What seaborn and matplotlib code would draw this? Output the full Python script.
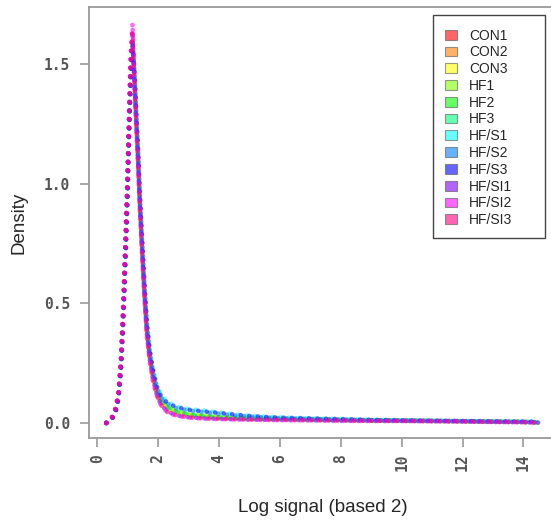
import pandas as pd
import matplotlib.pyplot as plt
import seaborn as sns
from matplotlib.patches import Patch, Rectangle

# Density curves of log2 signal
log_signal = [0.3, 0.45, 0.6, 0.7, 0.78, 0.85, 0.92, 0.98, 1.04, 1.1,
              1.16, 1.22, 1.28, 1.34, 1.4, 1.47, 1.55, 1.63, 1.72, 1.82,
              1.95, 2.1, 2.3, 2.6, 3.0, 3.5, 4.0, 4.5, 5.0, 5.5,
              6.0, 7.0, 8.0, 9.0, 10.0, 11.0, 12.0, 13.0, 14.0, 14.5]

con1 = [0.0, 0.012, 0.05, 0.11, 0.24, 0.44, 0.69, 0.92, 1.21, 1.47,
        1.60, 1.44, 1.27, 1.11, 0.92, 0.74, 0.55, 0.39, 0.29, 0.21,
        0.13, 0.088, 0.062, 0.045, 0.033, 0.027, 0.022, 0.020, 0.018, 0.017,
        0.016, 0.014, 0.012, 0.010, 0.009, 0.008, 0.007, 0.005, 0.004, 0.002]
con2 = [0.0, 0.010, 0.05, 0.12, 0.25, 0.45, 0.70, 0.93, 1.22, 1.49,
        1.62, 1.45, 1.28, 1.12, 0.93, 0.75, 0.56, 0.40, 0.29, 0.21,
        0.135, 0.09, 0.064, 0.046, 0.034, 0.028, 0.023, 0.021, 0.019, 0.018,
        0.017, 0.015, 0.013, 0.011, 0.010, 0.009, 0.007, 0.006, 0.004, 0.002]
con3 = [0.0, 0.011, 0.06, 0.12, 0.26, 0.46, 0.72, 0.95, 1.24, 1.50,
        1.61, 1.43, 1.26, 1.10, 0.91, 0.73, 0.54, 0.38, 0.28, 0.20,
        0.13, 0.086, 0.060, 0.044, 0.032, 0.026, 0.022, 0.020, 0.018, 0.017,
        0.016, 0.014, 0.012, 0.011, 0.010, 0.008, 0.007, 0.005, 0.004, 0.002]
hf1 = [0.0, 0.010, 0.05, 0.11, 0.24, 0.43, 0.68, 0.91, 1.20, 1.46,
       1.59, 1.46, 1.29, 1.13, 0.93, 0.75, 0.56, 0.39, 0.29, 0.21,
       0.135, 0.092, 0.066, 0.048, 0.036, 0.029, 0.024, 0.021, 0.019, 0.018,
       0.017, 0.015, 0.013, 0.011, 0.010, 0.008, 0.007, 0.006, 0.004, 0.002]
hf2 = [0.0, 0.011, 0.05, 0.11, 0.23, 0.42, 0.67, 0.90, 1.19, 1.45,
       1.58, 1.45, 1.28, 1.12, 0.94, 0.76, 0.57, 0.40, 0.30, 0.22,
       0.14, 0.095, 0.067, 0.049, 0.037, 0.030, 0.025, 0.022, 0.020, 0.018,
       0.017, 0.015, 0.013, 0.011, 0.010, 0.009, 0.007, 0.006, 0.005, 0.002]
hf3 = [0.0, 0.012, 0.06, 0.12, 0.25, 0.45, 0.71, 0.94, 1.23, 1.48,
       1.60, 1.44, 1.27, 1.11, 0.92, 0.74, 0.55, 0.39, 0.29, 0.21,
       0.135, 0.09, 0.065, 0.047, 0.035, 0.028, 0.023, 0.021, 0.019, 0.017,
       0.016, 0.014, 0.012, 0.011, 0.010, 0.008, 0.007, 0.005, 0.004, 0.002]
hfs1 = [0.0, 0.010, 0.05, 0.11, 0.23, 0.42, 0.66, 0.89, 1.18, 1.45,
        1.57, 1.47, 1.30, 1.14, 0.95, 0.77, 0.58, 0.42, 0.31, 0.23,
        0.16, 0.115, 0.088, 0.068, 0.058, 0.052, 0.044, 0.036, 0.030, 0.026,
        0.023, 0.019, 0.016, 0.013, 0.011, 0.009, 0.008, 0.006, 0.005, 0.003]
hfs2 = [0.0, 0.010, 0.05, 0.11, 0.24, 0.43, 0.68, 0.91, 1.20, 1.46,
        1.59, 1.46, 1.29, 1.13, 0.94, 0.76, 0.57, 0.41, 0.30, 0.22,
        0.15, 0.105, 0.08, 0.062, 0.052, 0.045, 0.038, 0.031, 0.027, 0.023,
        0.020, 0.017, 0.014, 0.012, 0.011, 0.009, 0.008, 0.006, 0.005, 0.003]
hfs3 = [0.0, 0.009, 0.04, 0.10, 0.22, 0.41, 0.65, 0.88, 1.17, 1.44,
        1.58, 1.48, 1.31, 1.15, 0.96, 0.78, 0.59, 0.42, 0.31, 0.23,
        0.155, 0.11, 0.084, 0.066, 0.055, 0.048, 0.042, 0.035, 0.029, 0.025,
        0.022, 0.019, 0.016, 0.013, 0.011, 0.010, 0.008, 0.007, 0.006, 0.005]
hfsi1 = [0.0, 0.012, 0.06, 0.12, 0.26, 0.47, 0.73, 0.96, 1.25, 1.52,
         1.64, 1.43, 1.25, 1.09, 0.90, 0.72, 0.53, 0.37, 0.27, 0.19,
         0.12, 0.075, 0.048, 0.032, 0.024, 0.019, 0.017, 0.015, 0.014, 0.013,
         0.012, 0.011, 0.009, 0.008, 0.008, 0.007, 0.006, 0.004, 0.003, 0.001]
hfsi2 = [0.0, 0.013, 0.06, 0.13, 0.27, 0.48, 0.74, 0.97, 1.26, 1.54,
         1.67, 1.42, 1.24, 1.08, 0.89, 0.71, 0.52, 0.36, 0.26, 0.18,
         0.115, 0.072, 0.045, 0.030, 0.022, 0.018, 0.016, 0.015, 0.014, 0.013,
         0.012, 0.011, 0.009, 0.008, 0.008, 0.007, 0.006, 0.004, 0.003, 0.001]
hfsi3 = [0.0, 0.012, 0.06, 0.12, 0.26, 0.46, 0.72, 0.95, 1.24, 1.51,
         1.63, 1.44, 1.26, 1.10, 0.90, 0.72, 0.53, 0.37, 0.27, 0.19,
         0.12, 0.074, 0.046, 0.031, 0.023, 0.019, 0.017, 0.015, 0.014, 0.013,
         0.012, 0.011, 0.010, 0.009, 0.008, 0.007, 0.006, 0.004, 0.003, 0.001]

samples = ['CON1', 'CON2', 'CON3', 'HF1', 'HF2', 'HF3',
           'HF/S1', 'HF/S2', 'HF/S3', 'HF/SI1', 'HF/SI2', 'HF/SI3']
curves = [con1, con2, con3, hf1, hf2, hf3, hfs1, hfs2, hfs3, hfsi1, hfsi2, hfsi3]
# R rainbow(12)
colores = ['#FF0000', '#FF8000', '#FFFF00', '#80FF00', '#00FF00', '#00FF80',
           '#00FFFF', '#0080FF', '#0000FF', '#8000FF', '#FF00FF', '#FF0080']

# tabla larga para seaborn
df = pd.concat([pd.DataFrame({'x': log_signal, 'density': c, 'sample': s})
                for s, c in zip(samples, curves)], ignore_index=True)

sns.set_style('ticks')
plt.rcParams['font.family'] = ['Liberation Sans', 'DejaVu Sans']

fig = plt.figure(figsize=(5.51, 5.24), dpi=100)
ax = fig.add_axes([89 / 551, 86 / 524, 467 / 551, 431 / 524])

sns.lineplot(data=df, x='x', y='density', hue='sample', palette=colores,
             hue_order=samples, sort=False, errorbar=None, legend=False,
             linewidth=3.4, alpha=0.6, linestyle=(0, (0.01, 1.8)),
             dash_capstyle='round', ax=ax)

ax.set_xlim(-0.27, 15.07)
ax.set_ylim(-0.063, 1.738)
ax.set_xticks(range(0, 15, 2))
ax.set_yticks([0.0, 0.5, 1.0, 1.5])
ax.set_yticklabels(['0.0', '0.5', '1.0', '1.5'])

for sp in ax.spines.values():
    sp.set_color('#9a9a9a')
    sp.set_linewidth(1.3)
ax.tick_params(axis='both', direction='out', length=6.5, width=1.2,
               color='#9a9a9a', labelcolor='#555555', labelsize=10.5,
               bottom=True, left=True)
ax.tick_params(axis='x', pad=5, labelrotation=90)
ax.tick_params(axis='y', pad=7)
for lab in ax.get_xticklabels() + ax.get_yticklabels():
    lab.set_family('DejaVu Sans Mono')
    lab.set_fontweight('bold')

ax.set_xlabel('Log signal (based 2)', fontsize=13.5, labelpad=20)
ax.set_ylabel('Density', fontsize=13.5, labelpad=12)

# caja de la leyenda al estilo R
ax.add_patch(Rectangle((0.7366, 0.464), 0.2394, 0.517, transform=ax.transAxes,
                       facecolor='white', edgecolor='#444444', linewidth=1.0,
                       zorder=4))
handles = [Patch(facecolor=c, alpha=0.6, edgecolor='#555555', linewidth=0.8)
           for c in colores]
leg = ax.legend(handles, samples, loc='upper left',
                bbox_to_anchor=(0.762, 0.95), borderaxespad=0, borderpad=0,
                fontsize=10, frameon=False,
                handlelength=0.85, handleheight=0.7, handletextpad=0.9,
                labelspacing=0.2)
leg.set_zorder(5)

fig.savefig('out.png', dpi=100)
